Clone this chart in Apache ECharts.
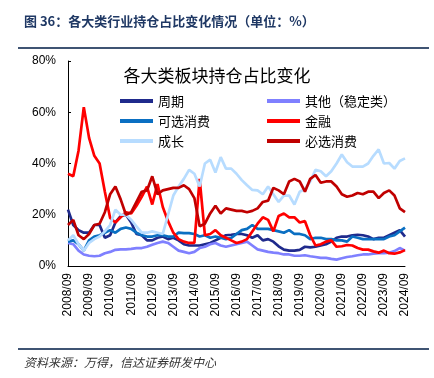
<!DOCTYPE html>
<html>
<head>
<meta charset="utf-8">
<script src="https://cdn.jsdelivr.net/npm/echarts@6/dist/echarts.min.js"></script>
<style>
html,body{margin:0;padding:0;background:#fff;}
#c{width:434px;height:378px;}
</style>
</head>
<body>
<div id="c"></div>
<script>
var categories = [
"2008/09","2008/12","2009/03","2009/06","2009/09","2009/12","2010/03","2010/06",
"2010/09","2010/12","2011/03","2011/06","2011/09","2011/12","2012/03","2012/06",
"2012/09","2012/12","2013/03","2013/06","2013/09","2013/12","2014/03","2014/06",
"2014/09","2014/12","2015/03","2015/06","2015/09","2015/12","2016/03","2016/06",
"2016/09","2016/12","2017/03","2017/06","2017/09","2017/12","2018/03","2018/06",
"2018/09","2018/12","2019/03","2019/06","2019/09","2019/12","2020/03","2020/06",
"2020/09","2020/12","2021/03","2021/06","2021/09","2021/12","2022/03","2022/06",
"2022/09","2022/12","2023/03","2023/06","2023/09","2023/12","2024/03","2024/06",
"2024/09"];

var cyclical = [22,16,14,13,13,16,16,11,12,17,19.5,20,17,12.5,12,10,10,11,11.5,10.5,11,10,8.5,8,8,8,8.5,9,10,11,12,12.2,12.5,12.5,12,11,12,10,10.5,9.5,7.7,6.4,6,6,6.3,7.5,7.3,7.5,8,8.5,9.5,11,11.5,11.5,12,12.2,12,11.5,10.5,11,11,12,13,14,11.5];
var others = [9,8.5,6,4.5,4,3.8,4,5,5.5,6.3,6.5,6.5,6.7,7,7,7.5,8.3,9,9.5,9,7.5,6,5.5,5,5.5,7,7.5,8.5,9,8,7.5,8,8.5,9,9.5,8,6.5,6,5.5,5.2,5,4.5,4.5,4,4,4.2,3.8,3.5,3.2,3.2,2.8,2.5,3,3.5,3.8,4.2,4.5,4.5,4.8,5,5,5.2,5.8,7,6];
var discretionary = [9.5,10,8.5,6,10,11.5,12,13,14,13,14.5,15,14.5,13,12,11.5,11.5,12,12,11.5,11.5,13,12.8,12.8,12.5,11.5,12,11,11.5,11,10.5,11,12.5,14,14.5,16,14.5,14.5,14.5,14,13.5,13,14,12.5,12.5,12,10.5,11,11,10.5,10.5,10,10,9.5,11.5,11,10.5,10.5,10.5,10.5,10.5,11.5,12,13.5,15];
var finance = [36,35,45,62,50,43,40,29,18.7,17,19,21,20.5,23.5,27,31,24,32,23,17.5,13,10.5,9.5,9,9,34,12,12.5,14,12,11,10,9,9.5,10.5,13.5,16.5,19,18,13.5,19.5,20.5,19,19,17,17.5,12,8,8.5,9.5,10,7.5,7.7,8.2,8,7,6.4,6.4,5.7,5.2,6,5,4.8,5.3,6.2];
var growth = [10,12,8.5,6,9,10.5,11.5,13.5,16,22,20,20,18,15.5,13,13,13.5,13,12.5,20,27.5,31,34,37.5,36,31,40,41.5,36.5,42.5,38,38,36,33.5,31.5,29.7,29.5,28,31,28,25,27.5,27.5,24,29,30,33,37.5,37,35,37,40,43.5,40.5,38.8,38.8,38.8,40,43,45.5,40,40.2,38,41,42];
var staples = [16,18,12,10.5,12.5,16,16.5,21,28,31,26,20,21,25,29,29.5,35,28,29.5,30,30.5,30.5,31.5,30,26.5,15.5,16.5,20.5,23.5,20.5,22.5,22,21.5,21.5,21,21.5,22.5,25,25.5,30.5,29.5,28,33,34,33,29,34,35.5,32.5,33,33,31,28,27,27.5,28.5,28,29,29,26.5,28.5,29.5,27.5,22.5,21];

var yTicks = [0,20,40,60,80];

var seriesNames = ["周期","其他（稳定类）","可选消费","金融","成长","必选消费"];
var seriesData = [cyclical, others, discretionary, finance, growth, staples];
var seriesColors = ["#1F2A8C","#7F80FF","#0A6FC2","#FF0000","#B7DCFF","#C00000"];

var chart = echarts.init(document.getElementById('c'), null, {renderer:'canvas'});

var series = seriesNames.map(function(n, k){
  return {
    name: n,
    type: 'line',
    data: seriesData[k],
    symbol: 'none',
    smooth: false,
    lineStyle: {width: 2.7, color: seriesColors[k]},
    itemStyle: {color: seriesColors[k]},
    emphasis: {disabled: true},
    z: 2
  };
});

var legendText = {fontSize: 13, color: '#000', fontFamily: '"Noto Sans CJK SC", sans-serif', lineHeight: 14};

chart.setOption({
  animation: false,
  backgroundColor: '#fff',
  title: [
    {
      text: '图 36：各大类行业持仓占比变化情况（单位：%）',
      left: 19, top: 10,
      textStyle: {fontSize: 13, fontWeight: 'bold', color: '#1F3864', fontFamily: '"Noto Sans CJK SC", sans-serif'}
    },
    {
      text: '各大类板块持仓占比变化',
      left: 'center', top: 62,
      textStyle: {fontSize: 17, fontWeight: 'normal', color: '#000', fontFamily: '"Noto Sans CJK SC", sans-serif'}
    },
    {
      text: '资料来源：万得，信达证券研发中心',
      left: 19, top: 351,
      textStyle: {fontSize: 12, fontWeight: 'normal', fontStyle: 'italic', color: '#333', fontFamily: '"Noto Sans CJK SC", sans-serif'}
    }
  ],
  graphic: [
    {type: 'line', shape: {x1: 18, y1: 48, x2: 429, y2: 48}, style: {stroke: '#3F5473', lineWidth: 2}},
    {type: 'line', shape: {x1: 18, y1: 349, x2: 429, y2: 349}, style: {stroke: '#3F5473', lineWidth: 2}}
  ],
  legend: [
    {
      data: [seriesNames[0], seriesNames[2], seriesNames[4]],
      orient: 'vertical', left: 115, top: 89,
      icon: 'rect', itemWidth: 33, itemHeight: 4, itemGap: 6,
      textStyle: legendText, selectedMode: false
    },
    {
      data: [seriesNames[1], seriesNames[3], seriesNames[5]],
      orient: 'vertical', left: 262, top: 89,
      icon: 'rect', itemWidth: 33, itemHeight: 4, itemGap: 6,
      textStyle: legendText, selectedMode: false
    }
  ],
  grid: {left: 68, right: 29, top: 61, bottom: 112, containLabel: false},
  xAxis: {
    type: 'category',
    data: categories,
    boundaryGap: false,
    axisLine: {show: true, lineStyle: {color: '#000', width: 1}},
    axisTick: {show: false},
    axisLabel: {rotate: 90, interval: 3, fontSize: 12, color: '#000', margin: 7, fontFamily: '"Liberation Sans", Arial, sans-serif'},
    splitLine: {show: false}
  },
  yAxis: {
    type: 'value',
    min: yTicks[0], max: yTicks[yTicks.length-1], interval: 20,
    axisLine: {show: true, lineStyle: {color: '#000', width: 1}},
    axisTick: {show: true, inside: true, length: 3, lineStyle: {color: '#000'}},
    axisLabel: {formatter: '{value}%', fontSize: 12, color: '#000', margin: 12, fontFamily: '"Liberation Sans", Arial, sans-serif'},
    splitLine: {show: false}
  },
  series: series
});
</script>
</body>
</html>
